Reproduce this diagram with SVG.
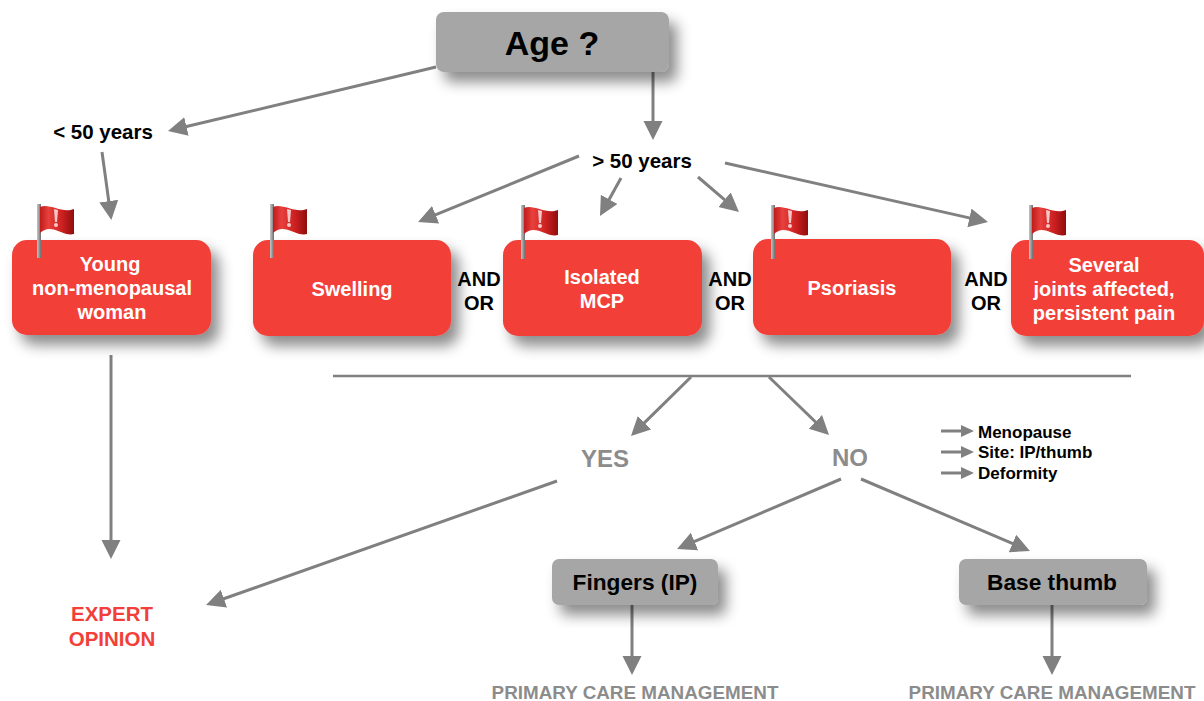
<svg xmlns="http://www.w3.org/2000/svg" width="1204" height="701" viewBox="0 0 1204 701">
<defs>
<filter id="sh" x="-20%" y="-30%" width="150%" height="180%"><feDropShadow dx="8" dy="10" stdDeviation="7" flood-color="#000" flood-opacity="0.45"/></filter>
<linearGradient id="fg" x1="0" y1="0" x2="1" y2="0"><stop offset="0" stop-color="#c01c1c"/><stop offset="0.25" stop-color="#e8403c"/><stop offset="0.65" stop-color="#cc2020"/><stop offset="1" stop-color="#8f0e0e"/></linearGradient>
<linearGradient id="pg" x1="0" y1="0" x2="1" y2="0"><stop offset="0" stop-color="#c8c8c8"/><stop offset="1" stop-color="#6e6e6e"/></linearGradient>
<marker id="ah" markerUnits="userSpaceOnUse" markerWidth="20" markerHeight="20" refX="1" refY="9.500" orient="auto"><path d="M0 0L19 9.500L0 19Z" fill="#808080"/></marker>
<marker id="as" markerUnits="userSpaceOnUse" markerWidth="14" markerHeight="12" refX="1" refY="6" orient="auto"><path d="M0 0L13 6L0 12Z" fill="#808080"/></marker>
<g id="flag"><rect x="0" y="0" width="4" height="54" fill="url(#pg)"/><path d="M3 3C13 -1 25 10 37 5L37 30C26 33 14 18 3 29Z" fill="url(#fg)"/><path d="M17 5L21 6L20 18L18 18Z" fill="#f5c8c8"/><circle cx="19" cy="21" r="2" fill="#f5c8c8"/></g>
</defs>
<style>
text{font-family:"Liberation Sans",Arial,sans-serif;font-weight:700;text-anchor:middle}
.r{fill:#f23f39;filter:url(#sh)}
.g{fill:#a6a6a6;filter:url(#sh)}
.w{fill:#fff;font-size:20px}
.k{fill:#000;font-size:20.500px}
.a{fill:#000;font-size:20px}
.n{fill:#8c8c8c;font-size:24px}
.p{fill:#8c8c8c;font-size:18.850px}
.l{fill:#000;font-size:17px;text-anchor:start}
.c line{stroke:#808080;stroke-width:3;marker-end:url(#ah)}
.c line.s{marker-end:url(#as)}
</style>
<g id="connectors" class="c">
<line x1="436" y1="67" x2="185.500" y2="126.800"/>
<line x1="653" y1="72" x2="653" y2="122"/>
<line x1="102" y1="152" x2="108.900" y2="202.100"/>
<line x1="579" y1="156" x2="434.700" y2="215.200"/>
<line x1="621" y1="178" x2="608.700" y2="200.200"/>
<line x1="698" y1="177" x2="725.300" y2="200.300"/>
<line x1="725" y1="163" x2="970.400" y2="218.100"/>
<line x1="111" y1="355" x2="111" y2="541"/>
<line x1="691" y1="377" x2="643.800" y2="423.400"/>
<line x1="769" y1="377" x2="816.100" y2="422.500"/>
<line x1="557" y1="481" x2="223" y2="599"/>
<line x1="841" y1="479" x2="693.600" y2="541.900"/>
<line x1="861" y1="479" x2="1013.400" y2="543.900"/>
<line x1="632" y1="605" x2="632" y2="657"/>
<line x1="1052" y1="605" x2="1052" y2="657"/>
<line class="s" x1="941" y1="431" x2="962" y2="431"/>
<line class="s" x1="941" y1="452" x2="962" y2="452"/>
<line class="s" x1="941" y1="473" x2="962" y2="473"/>
<path d="M333 376H1131" stroke="#808080" stroke-width="2.500" fill="none"/>
</g>
<g id="age"><rect class="g" x="436" y="12" width="233" height="60" rx="8"/><text x="552" y="55" font-size="34" fill="#000">Age ?</text></g>
<g id="lt50"><text class="k" x="103" y="139">&lt; 50 years</text></g>
<g id="gt50"><text class="k" x="642" y="168">&gt; 50 years</text></g>
<g id="young"><rect class="r" x="12" y="240" width="199" height="95" rx="15"/><use href="#flag" x="37" y="204"/><text class="w" x="110" y="271">Young</text><text class="w" x="112" y="295">non-menopausal</text><text class="w" x="112" y="319">woman</text></g>
<g id="swelling"><rect class="r" x="253" y="240" width="198" height="96" rx="15"/><use href="#flag" x="270" y="204"/><text class="w" x="352" y="296">Swelling</text></g>
<g id="mcp"><rect class="r" x="503" y="240" width="199" height="96" rx="15"/><use href="#flag" x="521" y="205"/><text class="w" x="602" y="284">Isolated</text><text class="w" x="602" y="308">MCP</text></g>
<g id="psoriasis"><rect class="r" x="753" y="239" width="198" height="96" rx="15"/><use href="#flag" x="771" y="205"/><text class="w" x="852" y="295">Psoriasis</text></g>
<g id="several"><rect class="r" x="1011" y="240" width="193" height="96" rx="15"/><use href="#flag" x="1029" y="205"/><text class="w" x="1104" y="272">Several</text><text class="w" x="1104" y="296">joints affected,</text><text class="w" x="1104" y="320">persistent pain</text></g>
<g id="andor1"><text class="a" x="479" y="286">AND</text><text class="a" x="479" y="310">OR</text></g>
<g id="andor2"><text class="a" x="730" y="286">AND</text><text class="a" x="730" y="310">OR</text></g>
<g id="andor3"><text class="a" x="986" y="286">AND</text><text class="a" x="986" y="310">OR</text></g>
<g id="yes"><text class="n" x="605" y="467">YES</text></g>
<g id="no"><text class="n" x="850" y="466">NO</text></g>
<g id="legend"><text class="l" x="978" y="438">Menopause</text><text class="l" x="978" y="458">Site: IP/thumb</text><text class="l" x="978" y="479">Deformity</text></g>
<g id="expert"><text x="112" y="621" font-size="20.500" fill="#f23f39">EXPERT</text><text x="112" y="646" font-size="20.500" fill="#f23f39">OPINION</text></g>
<g id="fingers"><rect class="g" x="552" y="559" width="166" height="46" rx="7"/><text x="635" y="590" font-size="22.700" fill="#000">Fingers (IP)</text></g>
<g id="thumb"><rect class="g" x="959" y="559" width="188" height="46" rx="7"/><text x="1052" y="590" font-size="22.700" fill="#000">Base thumb</text></g>
<g id="pcm1"><text class="p" x="635" y="699">PRIMARY CARE MANAGEMENT</text></g>
<g id="pcm2"><text class="p" x="1052" y="699">PRIMARY CARE MANAGEMENT</text></g>
</svg>
